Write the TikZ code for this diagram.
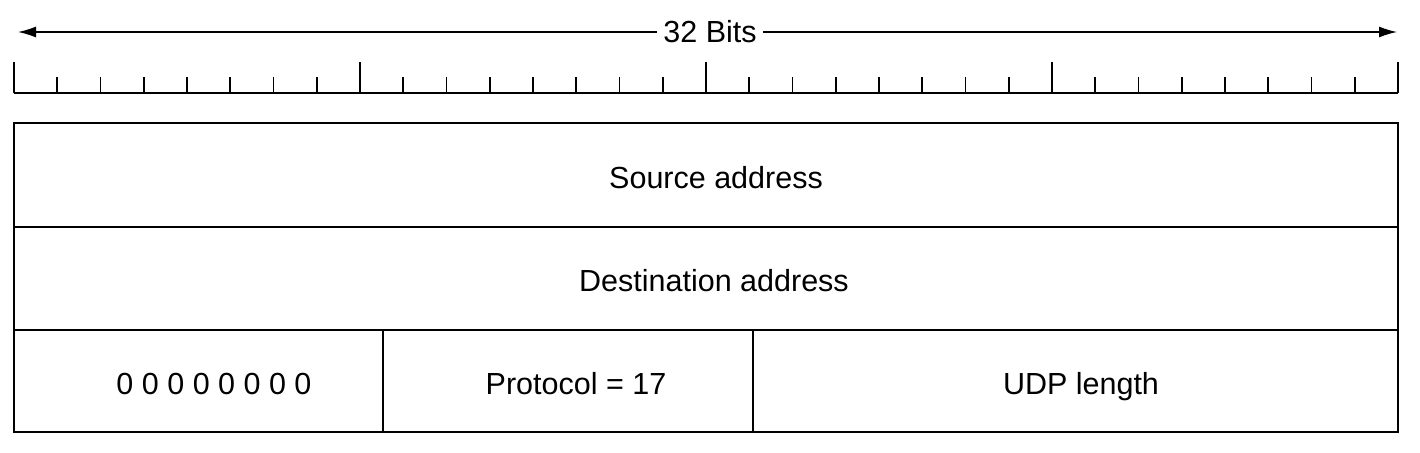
\documentclass[tikz,border=0pt]{standalone}
\usepackage{fontspec}
\setmainfont{Liberation Sans}
\usetikzlibrary{arrows.meta}
\begin{document}
\begin{tikzpicture}[x=1pt,y=-1pt,
  frame/.style={line width=1.6pt},
  lbl/.style={font=\fontsize{30.5}{36}\selectfont, inner sep=0pt, anchor=base},
  tick/.style={line width=1.6pt}]
\useasboundingbox (0,0) rectangle (1420,452);
% dimension arrow
\coordinate (al) at (18,32);
\coordinate (ar) at (1397,32);
\draw[line width=1.3pt, {Latex[length=18pt,width=11pt]}-{Latex[length=18pt,width=11pt]}] (al) -- (ar);
\node[lbl, fill=white, inner xsep=6pt, inner ysep=4pt] (bits) at (710,43) {32 Bits};
% ruler
\coordinate (rl) at (14,93);
\coordinate (rr) at (1398,93);
\draw[tick] (rl) -- (rr);
\foreach \k in {0,...,32}{
  \pgfmathsetmacro{\xx}{14+43.25*\k}
  \pgfmathtruncatemacro{\m}{mod(\k,8)}
  \ifnum\m=0
    \draw[tick] (\xx,93) -- (\xx,62);
  \else
    \draw[tick] (\xx,93) -- (\xx,77);
  \fi
}
% boxes
\draw[frame] (14,123) rectangle (1398,227);
\draw[frame] (14,227) rectangle (1398,330);
\draw[frame] (14,330) rectangle (383,432);
\draw[frame] (383,330) rectangle (753,432);
\draw[frame] (753,330) rectangle (1398,432);
\node[lbl] (src) at (716,188) {Source address};
\node[lbl] (dst) at (714,291) {Destination address};
\node[lbl] (zero) at (214,394) {0 0 0 0 0 0 0 0};
\node[lbl] (proto) at (576,394) {Protocol = 17};
\node[lbl] (len) at (1081,394) {UDP length};
\end{tikzpicture}
\end{document}
